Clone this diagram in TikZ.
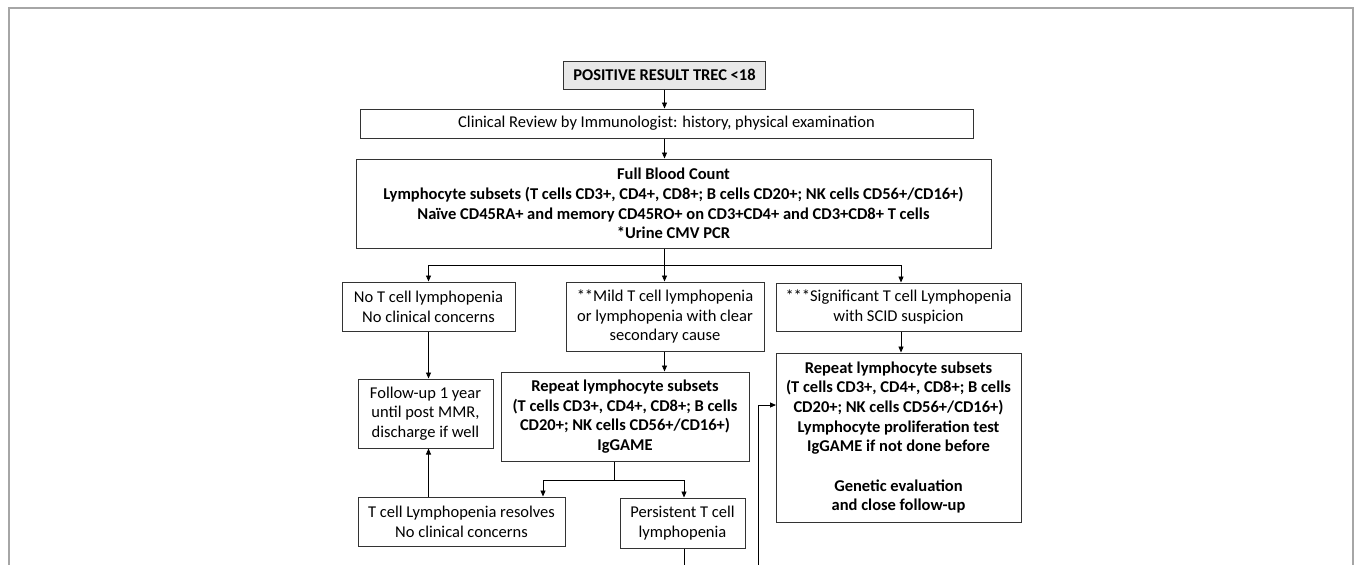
\documentclass[tikz,border=0pt]{standalone}
\usepackage{fontspec}
\setmainfont{Carlito}
\usetikzlibrary{arrows.meta}
\begin{document}
\begin{tikzpicture}[x=1pt,y=-1pt,
  box/.style={draw=black!80, line width=1pt, align=center, inner sep=0pt, font=\fontsize{16.5}{19.7}\selectfont},
  bbox/.style={box, font=\fontsize{16.5}{19.7}\selectfont\bfseries},
  arr/.style={-{Triangle[length=6pt,width=5pt]}, line width=0.9pt},
  ln/.style={line width=0.9pt}]
\useasboundingbox (0,0) rectangle (1355,565);
\draw[black!35, line width=1.3pt] (9,565) -- (9,8) -- (1353,8) -- (1353,565);

\node[bbox, fill=black!9, minimum width=202, minimum height=28] (pos) at (664.5,75) {POSITIVE RESULT TREC <18};
\node[box, minimum width=613, minimum height=29] (clin) at (666.5,123.5) {Clinical Review by Immunologist: history, physical examination};
\node[bbox, minimum width=635, minimum height=89] (fbc) at (673.5,203.5) {Full Blood Count\\Lymphocyte subsets (T cells CD3+, CD4+, CD8+; B cells CD20+; NK cells CD56+/CD16+)\\Naïve CD45RA+ and memory CD45RO+ on CD3+CD4+ and CD3+CD8+ T cells\\*Urine CMV PCR};
\node[box, minimum width=173, minimum height=49] (noT) at (428.5,306.5) {No T cell lymphopenia\\No clinical concerns};
\node[box, minimum width=198, minimum height=69] (mild) at (665,316.5) {**Mild T cell lymphopenia\\or lymphopenia with clear\\secondary cause};
\node[box, minimum width=245, minimum height=48] (sig) at (898.5,307) {***Significant T cell Lymphopenia\\with SCID suspicion};
\node[box, minimum width=135, minimum height=69] (fu) at (425.5,413.5) {Follow-up 1 year\\until post MMR,\\discharge if well};
\node[bbox, minimum width=248, minimum height=89] (rep1) at (625,416.5) {Repeat lymphocyte subsets\\(T cells CD3+, CD4+, CD8+; B cells\\CD20+; NK cells CD56+/CD16+)\\IgGAME};
\node[bbox, minimum width=245, minimum height=169] (rep2) at (898.5,437.5) {Repeat lymphocyte subsets\\(T cells CD3+, CD4+, CD8+; B cells\\CD20+; NK cells CD56+/CD16+)\\Lymphocyte proliferation test\\IgGAME if not done before\\[19.7pt]Genetic evaluation\\and close follow-up};
\node[box, minimum width=207, minimum height=49] (res) at (461.5,521.5) {T cell Lymphopenia resolves\\No clinical concerns};
\node[box, minimum width=125, minimum height=50] (pers) at (682.5,523) {Persistent T cell\\lymphopenia};

\coordinate (j1) at (664.5,265);
\coordinate (j2) at (614,480);
\coordinate (resin) at (543,480);
\coordinate (persend) at (684,566);
\coordinate (fb) at (758,566);
\coordinate (fbin) at (776,405);

\draw[arr] (pos.south) -- (pos.south |- clin.north);
\draw[arr] (pos.south |- clin.south) -- (pos.south |- fbc.north);
\draw[ln] (pos.south |- fbc.south) -- (j1);
\draw[arr] (j1) -| (noT.north);
\draw[arr] (j1) -| (901,0 |- sig.north);
\draw[arr] (j1) -- (j1 |- mild.north);
\draw[arr] (noT.south) -- (noT.south |- fu.north);
\draw[arr] (j1 |- mild.south) -- (j1 |- rep1.north);
\draw[arr] (901,0 |- sig.south) -- (901,0 |- rep2.north);
\draw[ln] (j2 |- rep1.south) -- (j2);
\draw[arr] (j2) -| (resin |- res.north);
\draw[arr] (j2) -| (persend |- pers.north);
\draw[arr] (noT.south |- res.north) -- (noT.south |- fu.south);
\draw[ln] (persend |- pers.south) -- (persend);
\draw[arr] (fb) |- (fbin);
\end{tikzpicture}
\end{document}
